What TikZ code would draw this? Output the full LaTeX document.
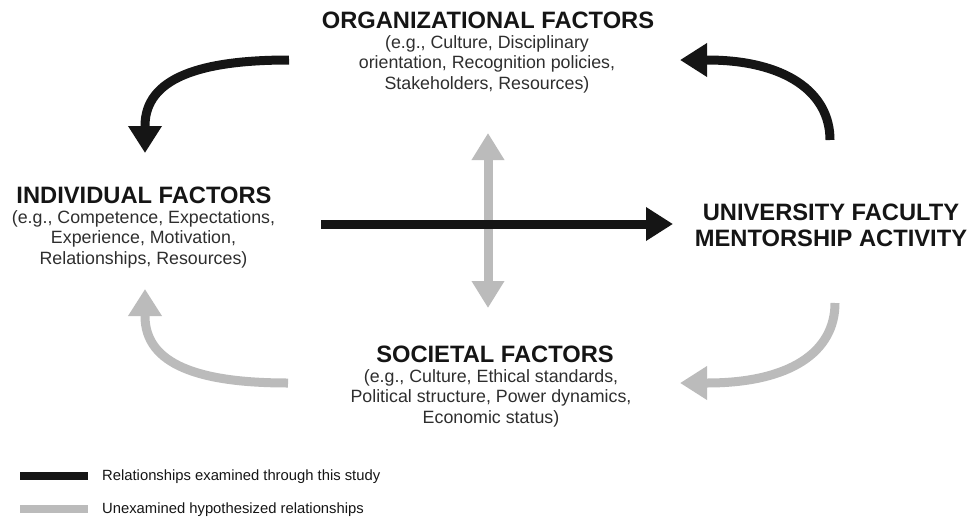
\documentclass[tikz,border=0pt]{standalone}
\usepackage{fontspec}
\setmainfont{Liberation Sans}
\usetikzlibrary{arrows.meta}
\definecolor{blk}{HTML}{151515}
\definecolor{gry}{HTML}{BBBBBB}
\definecolor{bodytxt}{HTML}{2E2E2E}
\tikzset{
  head/.style={-{Triangle[width=32pt,length=27pt]}},
  dhead/.style={{Triangle[width=31pt,length=27pt]}-{Triangle[width=31pt,length=27pt]}},
  blackarrow/.style={draw=blk, line width=9pt, head},
  grayarrow/.style={draw=gry, line width=9pt, head},
  titletxt/.style={inner sep=0pt, anchor=base, text=blk, font=\fontsize{23.7}{26}\selectfont\bfseries, align=center},
  bodybox/.style={inner sep=0pt, anchor=base, text=bodytxt, font=\fontsize{17.8}{20.5}\selectfont, align=center},
  legendtxt/.style={inner sep=0pt, anchor=base west, text=blk, font=\fontsize{14.8}{17}\selectfont},
  legendbar/.style={line width=8pt}
}
\begin{document}
\begin{tikzpicture}[x=1pt,y=-1pt]
\useasboundingbox (0,0) rectangle (969,517);

% texts (body nodes are anchored at the baseline of their last line)
\node[titletxt] (orgT) at (488,28) {ORGANIZATIONAL FACTORS};
\node[bodybox] (orgB) at (487,89) {(e.g., Culture, Disciplinary\\orientation, Recognition policies,\\Stakeholders, Resources)};
\node[titletxt] (indT) at (144,203) {INDIVIDUAL FACTORS};
\node[bodybox] (indB) at (143.5,264) {(e.g., Competence, Expectations,\\Experience, Motivation,\\Relationships, Resources)};
\node[titletxt] (uniT) at (831,220) {UNIVERSITY FACULTY};
\node[titletxt] (uniB) at (831,246) {MENTORSHIP ACTIVITY};
\node[titletxt] (socT) at (495,362) {SOCIETAL FACTORS};
\node[bodybox] (socB) at (491,423) {(e.g., Culture, Ethical standards,\\Political structure, Power dynamics,\\Economic status)};

% arrow coordinates
\coordinate (tlS) at (289,60);
\coordinate (tlE) at (145,126);
\coordinate (tlT) at (145,153);
\coordinate (trS) at (830,140);
\coordinate (trE) at (707,60);
\coordinate (trT) at (680,60);
\coordinate (blS) at (288,383);
\coordinate (blE) at (145,316);
\coordinate (blT) at (145,289);
\coordinate (brS) at (835,303);
\coordinate (brE) at (707,383);
\coordinate (brT) at (680,383);
\coordinate (vTop) at (488,133);
\coordinate (vBot) at (488,308);
\coordinate (hS) at (321,224);
\coordinate (hT) at (673,224);

% gray vertical double arrow
\draw[draw=gry, line width=9pt, dhead] (vTop) -- (vBot);
% black horizontal arrow
\draw[blackarrow] (hS) -- (hT);

% curved arrows
\draw[blackarrow] (tlS) .. controls (200,60) and (145,78) .. (tlE) -- (tlT);
\draw[blackarrow] (trS) .. controls (830,92) and (785,60) .. (trE) -- (trT);
\draw[grayarrow] (blS) .. controls (200,383) and (145,365) .. (blE) -- (blT);
\draw[grayarrow] (brS) .. controls (835,352) and (790,383) .. (brE) -- (brT);

% legend
\coordinate (lb1a) at (20,475.5);
\coordinate (lb1b) at (88,475.5);
\coordinate (lb2a) at (20,509);
\coordinate (lb2b) at (88,509);
\draw[legendbar, draw=blk] (lb1a) -- (lb1b);
\draw[legendbar, draw=gry] (lb2a) -- (lb2b);
\node[legendtxt] (leg1) at (102,480) {Relationships examined through this study};
\node[legendtxt] (leg2) at (102,513) {Unexamined hypothesized relationships};
\end{tikzpicture}
\end{document}
